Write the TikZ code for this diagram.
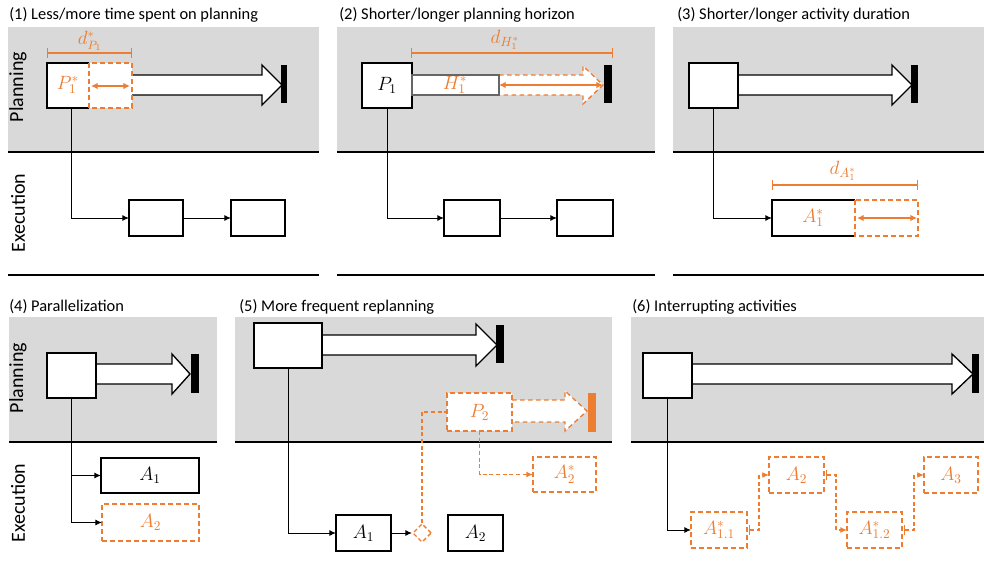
\documentclass[tikz,border=0pt]{standalone}
\usepackage{fontspec}
\setmainfont{Carlito}
\usetikzlibrary{arrows.meta,calc,shapes.geometric}
\definecolor{accent}{RGB}{237,125,49}
\definecolor{bandgray}{RGB}{217,217,217}

% box node given by its corners in pixel units: name, x1, y1, x2, y2, style, text
\newcommand{\pxbox}[7]{%
  \node[#6, minimum width={((#4)-(#2))*0.75pt}, minimum height={((#5)-(#3))*0.75pt}]
    (#1) at ({((#2)+(#4))/2},{((#3)+(#5))/2}) {#7};}
% block arrow: style, tail x, head base x, tip x, centre y, half shaft, half head
\newcommand{\blockarr}[7]{%
  \filldraw[#1] ({#2},{#5-#6}) -- ({#3},{#5-#6}) -- ({#3},{#5-#7}) -- ({#4},{#5})
    -- ({#3},{#5+#7}) -- ({#3},{#5+#6}) -- ({#2},{#5+#6});}

\begin{document}
\begin{tikzpicture}[x=0.75pt,y=-0.75pt,
  box/.style={draw, line width=1pt, fill=white, inner sep=0pt, outer sep=0pt,
    font=\fontsize{14.5}{17}\selectfont},
  obox/.style={draw=accent, line width=1pt, dash pattern=on 3.5pt off 2.5pt, fill=white,
    text=accent, inner sep=0pt, outer sep=0pt, font=\fontsize{14.5}{17}\selectfont},
  hole/.style={inner sep=0pt, outer sep=0pt},
  blk/.style={draw, line width=1pt, fill=white},
  oblk/.style={draw=accent, line width=1pt, dash pattern=on 3.5pt off 2.5pt, fill=white},
  conn/.style={line width=0.75pt, -{Latex[length=5pt,width=4.5pt]}},
  oconn/.style={draw=accent, line width=1pt, dash pattern=on 3pt off 2pt,
    -{Latex[length=5pt,width=4.5pt]}},
  tconn/.style={draw=accent, line width=1pt, dash pattern=on 3pt off 2pt,
    {Bar[width=7pt]}-{Latex[length=5pt,width=4.5pt]}},
  oline/.style={draw=accent, line width=1pt, dash pattern=on 3pt off 2pt},
  dim/.style={draw=accent, line width=1.1pt, {Bar[width=7pt]}-{Bar[width=7pt]}},
  dbl/.style={draw=accent, line width=1.1pt,
    {Latex[length=5pt,width=5pt]}-{Latex[length=5pt,width=5pt]}},
  band/.style={fill=bandgray},
  sep/.style={line width=1pt},
  title/.style={anchor=west, inner sep=0pt, font=\fontsize{12.3}{14}\selectfont},
  lane/.style={rotate=90, inner sep=0pt, font=\fontsize{15}{18}\selectfont},
  olbl/.style={text=accent, inner sep=0pt, font=\fontsize{14.5}{17}\selectfont}]
\useasboundingbox (0,0) rectangle (984,563);

% ---------- (1) Less/more time spent on planning ----------
\fill[band] (8,27) rectangle (319,151);
\draw[sep] (8,152) -- (319,152);
\draw[sep] (8,275) -- (319,275);
\node[title] (t1) at (9,15) {(1) Less/more time spent on planning};
\node[lane] (plan1) at (18,87) {Planning};
\node[lane] (exec1) at (18,213) {Execution};
\blockarr{blk}{132}{262}{282}{85}{10}{20}
\fill (281,65) rectangle (287,103);
\filldraw[fill=white, line width=1pt] (89,63) -- (47,63) -- (47,108) -- (89,108);
\filldraw[fill=white, draw=accent, line width=1pt, dash pattern=on 3.5pt off 2.5pt]
  (89,63) rectangle (132,108);
\pxbox{P1}{47}{63}{132}{108}{hole}{}
\node[olbl] (p1lab) at (68,85) {$P_1^*$};
\draw[dbl] (91,86) -- (130,86);
\draw[dim] (47,53) -- (132,53);
\node[olbl, font=\fontsize{13.5}{15}\selectfont] (d1lab) at (90,41) {$d^*_{P_1}$};
\pxbox{E11}{129}{200}{183}{236}{box}{}
\pxbox{E12}{231}{200}{285}{236}{box}{}
\draw[conn] ([xshift=18pt]P1.south west) |- (E11.west);
\draw[conn] (E11.east) -- (E12.west);

% ---------- (2) Shorter/longer planning horizon ----------
\fill[band] (337,27) rectangle (655,151);
\draw[sep] (337,152) -- (655,152);
\draw[sep] (337,275) -- (655,275);
\node[title] (t2) at (339,15) {(2) Shorter/longer planning horizon};
\blockarr{oblk}{499}{583}{603}{85}{10}{19}
\fill (604,65) rectangle (612,103);
\pxbox{Q1}{362}{63}{412}{108}{box}{$P_1$}
\pxbox{H1}{412}{75}{499}{95}{draw=black!60, line width=0.9pt, fill=white, inner sep=0pt, outer sep=0pt}{}
\node[olbl] (h1lab) at (455,85) {$H_1^*$};
\draw[dbl] (H1.east) -- (603,85);
\draw[dim] (411,53) -- (613,53);
\node[olbl] (d2lab) at (505,40) {$d_{H_1^*}$};
\pxbox{E21}{444}{200}{500}{236}{box}{}
\pxbox{E22}{557}{200}{613}{236}{box}{}
\draw[conn] (Q1.south) |- (E21.west);
\draw[conn] (E21.east) -- (E22.west);

% ---------- (3) Shorter/longer activity duration ----------
\fill[band] (673,27) rectangle (984,151);
\draw[sep] (673,152) -- (984,152);
\draw[sep] (673,275) -- (984,275);
\node[title] (t3) at (677,15) {(3) Shorter/longer activity duration};
\blockarr{blk}{738}{892}{912}{85}{10}{20}
\fill (911,65) rectangle (918,103);
\pxbox{R1}{689}{63}{738}{108}{box}{}
\filldraw[fill=white, line width=1pt] (855,200) -- (772,200) -- (772,236) -- (855,236);
\filldraw[fill=white, draw=accent, line width=1pt, dash pattern=on 3.5pt off 2.5pt]
  (855,200) rectangle (918,236);
\pxbox{A31}{772}{200}{918}{236}{hole}{}
\node[olbl] (a31lab) at (813,218) {$A_1^*$};
\draw[dbl] (857,218) -- (917,218);
\draw[dim] (772,185) -- (918,185);
\node[olbl] (d3lab) at (843,171) {$d_{A_1^*}$};
\draw[conn] (R1.south) |- (A31.west);

% ---------- (4) Parallelization ----------
\fill[band] (9,317) rectangle (217,442);
\draw[sep] (9,442) -- (217,442);
\node[title] (t4) at (9,307) {(4) Parallelization};
\node[lane] (plan4) at (18,378) {Planning};
\node[lane] (exec4) at (18,503) {Execution};
\blockarr{blk}{96}{172}{190}{374}{10}{20}
\fill (191,354) rectangle (199,393);
\pxbox{S1}{47}{353}{96}{398}{box}{}
\pxbox{A41}{101}{458}{199}{493}{box}{$A_1$}
\pxbox{A42}{102}{504}{199}{541}{obox}{$A_2$}
\draw[conn] (S1.south) |- (A41.west);
\draw[conn] (S1.south) |- (A42.west);

% ---------- (5) More frequent replanning ----------
\fill[band] (235,317) rectangle (612,442);
\draw[sep] (235,442) -- (612,442);
\node[title] (t5) at (239,307) {(5) More frequent replanning};
\blockarr{blk}{322}{476}{497}{345}{10}{21}
\fill (496,325) rectangle (504,363);
\pxbox{T1}{254}{323}{322}{368}{box}{}
\blockarr{oblk}{512}{565}{587}{411}{11}{20}
\fill[accent] (588,393) rectangle (596,432);
\pxbox{P2}{447}{393}{512}{431}{obox}{$P_2$}
\pxbox{A51}{336}{515}{391}{551}{box}{$A_1$}
\pxbox{A52}{448}{515}{503}{551}{box}{$A_2$}
\pxbox{A2s}{533}{457}{596}{492}{obox}{$A_2^*$}
\node[diamond, draw=accent, line width=1pt, dash pattern=on 3pt off 2pt, fill=white,
  inner sep=0pt, minimum size=14pt] (D5) at (422,533) {};
\draw[conn] (T1.south) |- (A51.west);
\draw[conn] (A51.east) -- (D5.west);
\draw[oline] (D5.north) |- (P2.west);
\draw[oconn] (P2.south) |- (A2s.west);

% ---------- (6) Interrupting activities ----------
\fill[band] (631,317) rectangle (984,442);
\draw[sep] (631,442) -- (984,442);
\node[title] (t6) at (632,307) {(6) Interrupting activities};
\blockarr{blk}{692}{952}{973}{374}{10}{20}
\fill (972,354) rectangle (979,393);
\pxbox{U1}{643}{353}{692}{398}{box}{}
\pxbox{A611}{691}{512}{747}{548}{obox}{$A_{1.1}^*$}
\pxbox{A62}{769}{457}{824}{493}{obox}{$A_2$}
\pxbox{A612}{847}{512}{902}{548}{obox}{$A_{1.2}^*$}
\pxbox{A63}{924}{457}{978}{493}{obox}{$A_3$}
\draw[conn] (U1.south) |- (A611.west);
\draw[tconn] ([xshift=1.5pt]A611.east) -- ++(10,0) |- (A62.west);
\draw[tconn] ([xshift=1.5pt]A62.east) -- ++(10,0) |- (A612.west);
\draw[tconn] ([xshift=1.5pt]A612.east) -- ++(10,0) |- (A63.west);

\end{tikzpicture}
\end{document}
